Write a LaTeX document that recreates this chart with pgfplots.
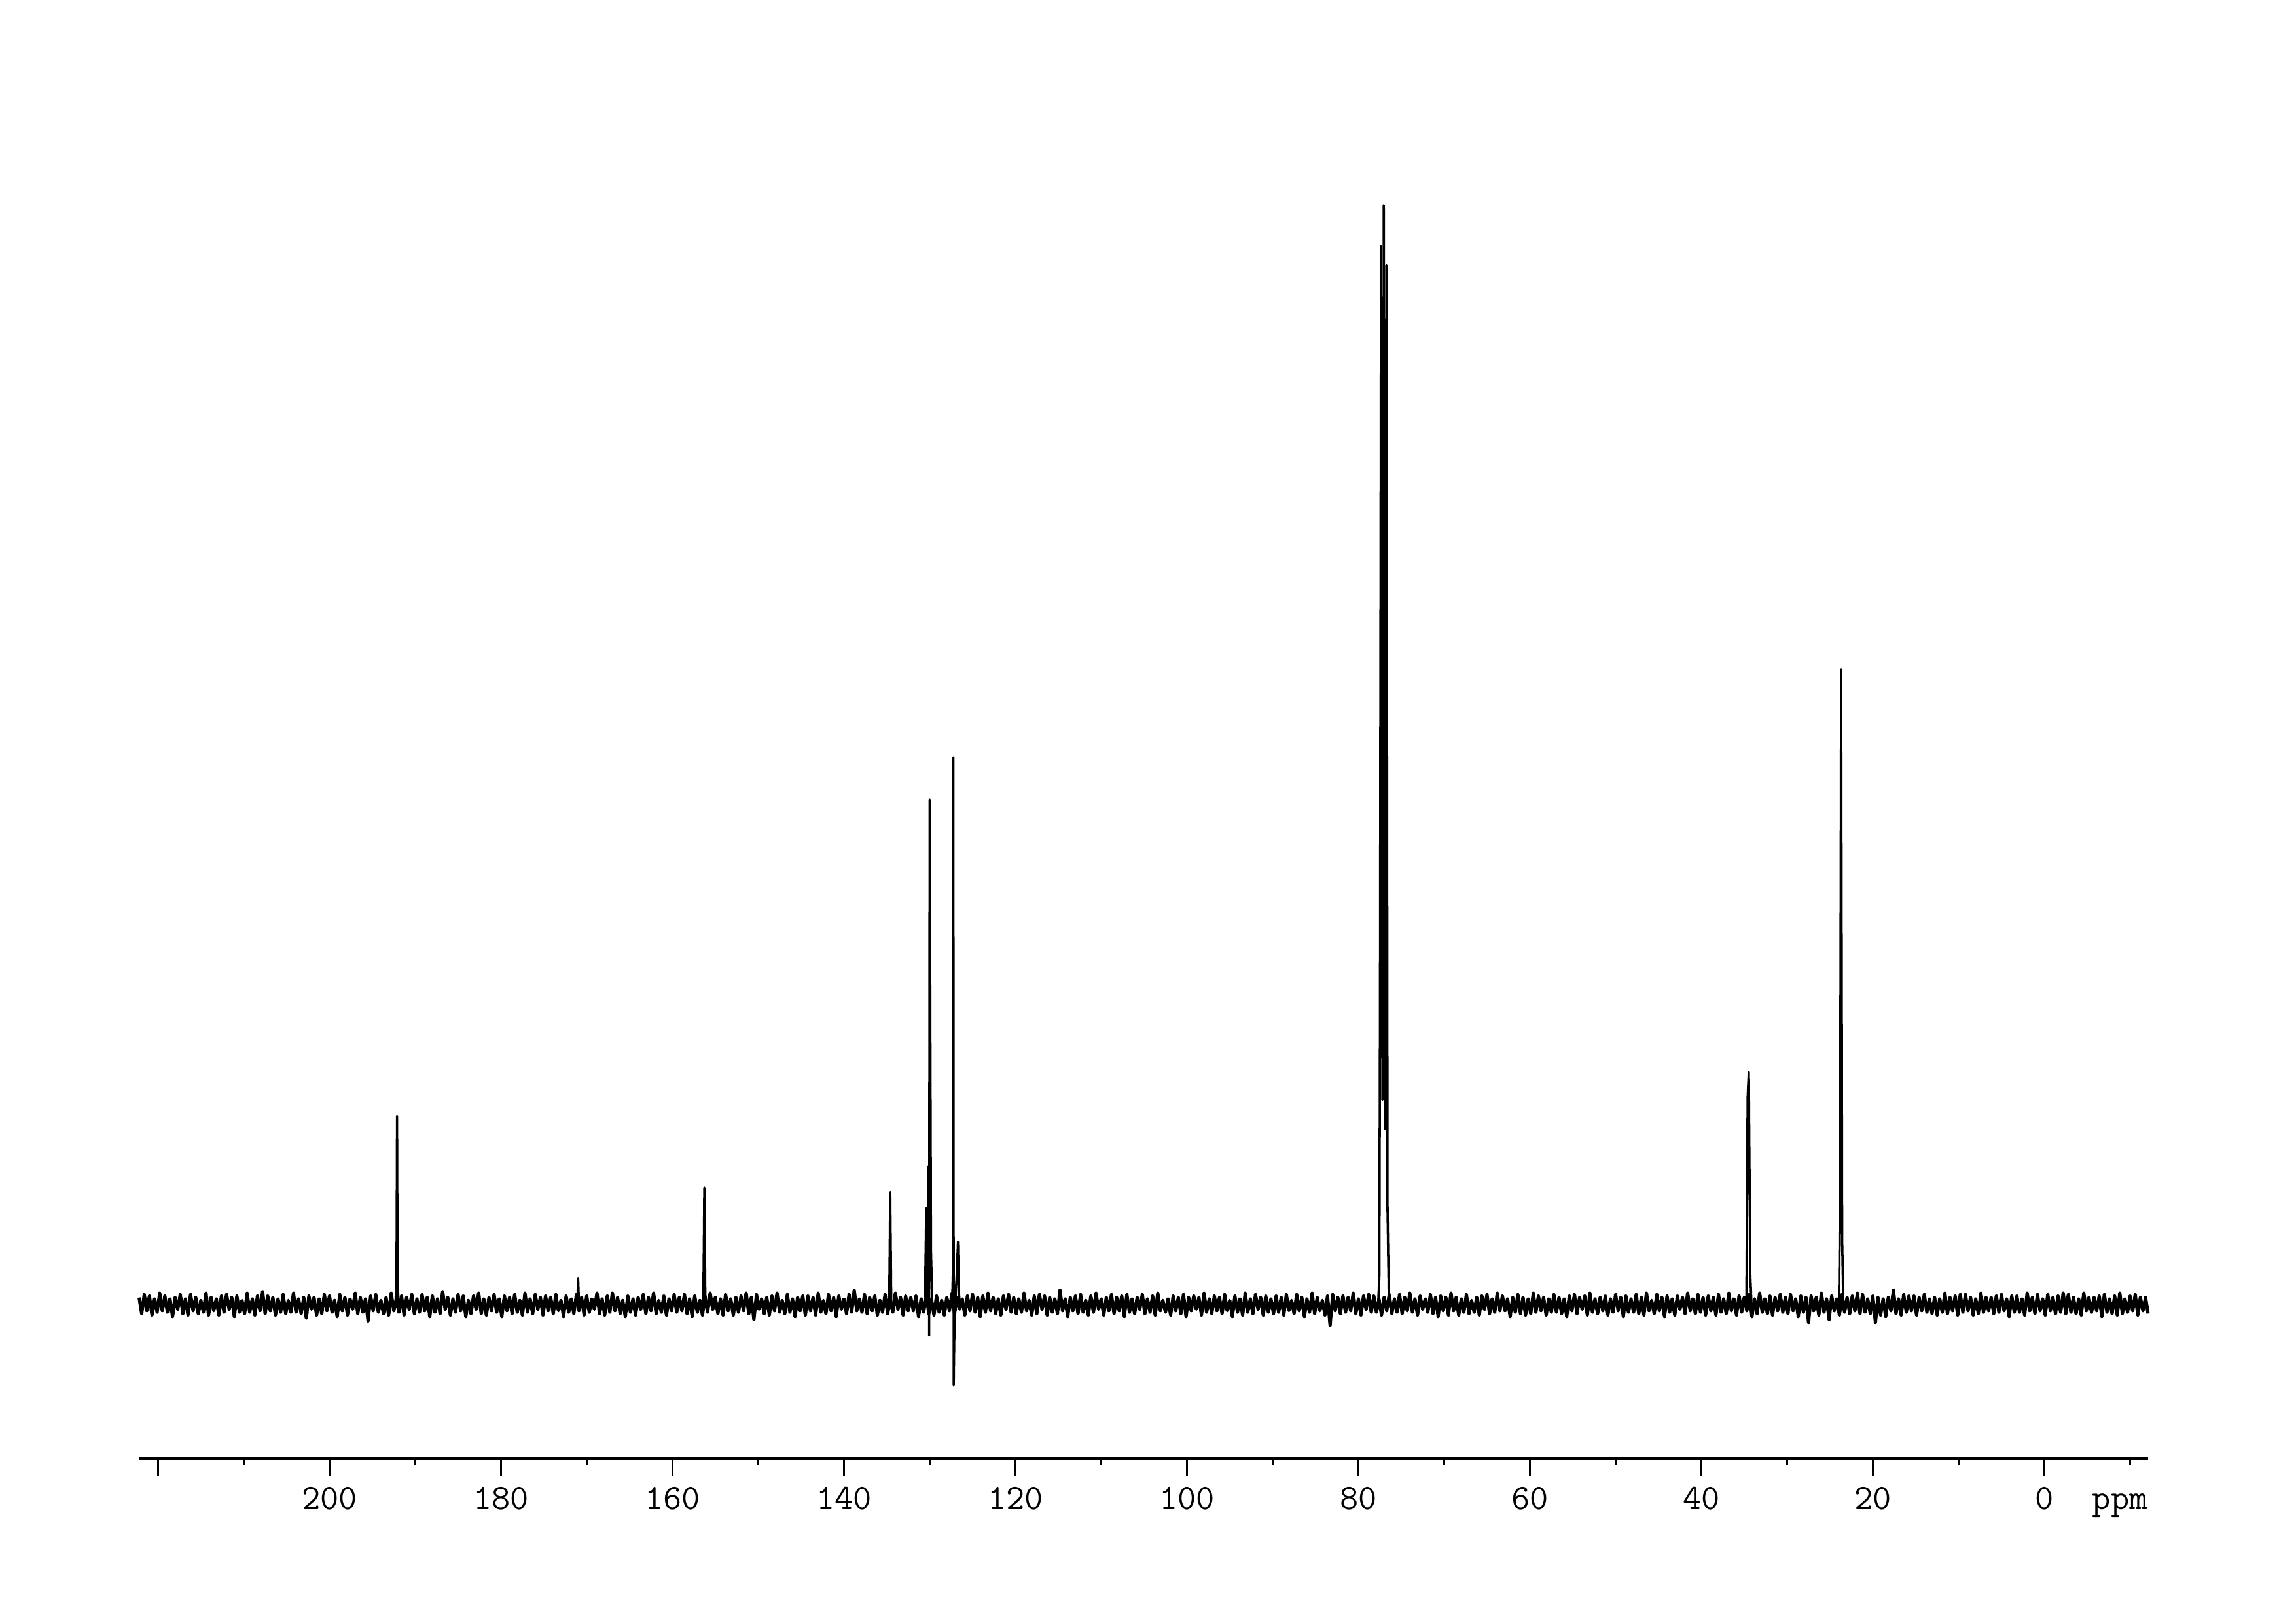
\documentclass[border=0pt]{standalone}
\usepackage{fontspec}
\usepackage{pgfplots}
\pgfplotsset{compat=1.18}
\pgfplotstableread{
x y
222.2 5
221.9 -6
221.6 7
221.3 -4
221.0 6
220.7 -7
220.4 4
220.1 -5
219.8 8
219.5 -4
219.2 6
218.9 -5
218.6 4
218.3 -8
218.0 5
217.7 -3
217.4 7
217.1 -6
216.8 4
216.5 -7
216.2 7
215.9 -4
215.6 5
215.3 -6
215.0 3
214.7 -5
214.4 8
214.1 -7
213.8 5
213.5 -4
213.2 4
212.9 -7
212.6 6
212.3 -5
212.0 7
211.7 -3
211.4 5
211.1 -8
210.8 6
210.5 -5
210.2 3
209.9 -6
209.6 8
209.3 -5
209.0 4
208.7 -7
208.4 6
208.1 -4
207.8 9
207.5 -6
207.2 6
206.9 -4
206.6 5
206.3 -7
206.0 4
205.7 -5
205.4 7
205.1 -6
204.8 3
204.5 -5
204.2 8
203.9 -5
203.6 4
203.3 -6
203.0 5
202.7 -9
202.4 6
202.1 -3
201.8 5
201.5 -7
201.2 4
200.9 -6
200.6 7
200.3 -4
200.0 6
199.7 -5
199.4 3
199.1 -8
198.8 7
198.5 -4
198.2 5
197.9 -7
197.6 4
197.3 -3
197.0 8
196.7 -6
196.4 5
196.1 -5
195.8 4
195.5 -11
195.2 6
194.9 -4
194.6 7
194.3 -5
194.0 3
193.7 -6
193.4 5
193.1 -7
192.8 8
192.5 -4
192.2 4
191.9 -5
191.6 6
191.3 -7
191.0 5
190.7 -3
190.4 7
190.1 -6
189.8 4
189.5 -5
189.2 7
188.9 -4
188.6 5
188.3 -8
188.0 6
187.7 -5
187.4 4
187.1 -6
186.8 9
186.5 -3
186.2 5
185.9 -7
185.6 4
185.3 -5
185.0 7
184.7 -4
184.4 6
184.1 -8
183.8 3
183.5 -6
183.2 6
182.9 -3
182.6 8
182.3 -6
182.0 4
181.7 -7
181.4 5
181.1 -4
180.8 7
180.5 -5
180.2 4
179.9 -8
179.6 6
179.3 -4
179.0 5
178.7 -6
178.4 7
178.1 -5
177.8 3
177.5 -7
177.2 8
176.9 -5
176.6 4
176.3 -6
176.0 7
175.7 -3
175.4 5
175.1 -7
174.8 6
174.5 -4
174.2 5
173.9 -6
173.6 7
173.3 -4
173.0 3
172.7 -8
172.4 6
172.1 -5
171.8 4
171.5 -6
171.2 7
170.9 -4
170.6 5
170.3 -7
170.0 6
169.7 -5
169.4 4
169.1 -3
168.8 8
168.5 -6
168.2 4
167.9 -7
167.6 6
167.3 -5
167.0 8
166.7 -4
166.4 5
166.1 -6
165.8 3
165.5 -8
165.2 6
164.9 -5
164.6 4
164.3 -7
164.0 5
163.7 -3
163.4 7
163.1 -6
162.8 5
162.5 -4
162.2 8
161.9 -6
161.6 3
161.3 -5
161.0 6
160.7 -7
160.4 4
160.1 -4
159.8 7
159.5 -5
159.2 5
158.9 -4
158.6 7
158.3 -6
158.0 4
157.7 -8
157.4 6
157.1 -5
156.8 3
156.5 -7
156.2 6
155.9 -5
155.6 8
155.3 -3
155.0 5
154.7 -6
154.4 4
154.1 -7
153.8 7
153.5 -4
153.2 4
152.9 -7
152.6 5
152.3 -5
152.0 6
151.7 -4
151.4 8
151.1 -6
150.8 5
150.5 -10
150.2 7
149.9 -3
149.6 4
149.3 -6
149.0 5
148.7 -7
148.4 6
148.1 -4
147.8 8
147.5 -5
147.2 3
146.9 -6
146.6 7
146.3 -5
146.0 4
145.7 -8
145.4 5
145.1 -4
144.8 6
144.5 -7
144.2 6
143.9 -4
143.6 5
143.3 -7
143.0 8
142.7 -5
142.4 3
142.1 -6
141.8 7
141.5 -4
141.2 5
140.9 -8
140.6 6
140.3 -3
140.0 4
139.7 -6
139.4 7
139.1 -5
138.8 10
138.5 -4
138.2 4
137.9 -5
137.6 7
137.3 -6
137.0 5
136.7 -4
136.4 6
136.1 -7
135.8 3
135.5 -5
135.2 7
134.9 -6
134.6 4
134.3 -5
134.0 8
133.7 -3
133.4 5
133.1 -7
132.8 6
132.5 -4
132.2 5
131.9 -4
131.6 6
131.3 -8
131.0 4
130.7 -5
130.4 7
130.1 -6
129.8 4
129.5 -7
129.2 6
128.9 -5
128.6 3
128.3 -7
128.0 5
127.7 -4
127.4 8
127.1 -6
126.8 5
126.5 -3
126.2 4
125.9 -7
125.6 6
125.3 -4
125.0 7
124.7 -5
124.4 5
124.1 -8
123.8 6
123.5 -5
123.2 8
122.9 -4
122.6 5
122.3 -6
122.0 4
121.7 -7
121.4 6
121.1 -3
120.8 7
120.5 -5
120.2 5
119.9 -6
119.6 4
119.3 -5
119.0 8
118.7 -4
118.4 3
118.1 -7
117.8 6
117.5 -6
117.2 7
116.9 -3
116.6 6
116.3 -7
116.0 5
115.7 -5
115.4 4
115.1 -6
114.8 10
114.5 -4
114.2 4
113.9 -8
113.6 5
113.3 -4
113.0 6
112.7 -6
112.4 7
112.1 -5
111.8 3
111.5 -7
111.2 6
110.9 -5
110.6 8
110.3 -3
110.0 4
109.7 -7
109.4 5
109.1 -4
108.8 7
108.5 -6
108.2 5
107.9 -4
107.6 6
107.3 -8
107.0 7
106.7 -5
106.4 4
106.1 -6
105.8 5
105.5 -3
105.2 7
104.9 -6
104.6 4
104.3 -5
104.0 6
103.7 -7
103.4 8
103.1 -4
102.8 3
102.5 -5
102.2 4
101.9 -7
101.6 6
101.3 -4
101.0 5
100.7 -6
100.4 7
100.1 -8
99.8 5
99.5 -4
99.2 6
98.9 -3
98.6 5
98.3 -7
98.0 8
97.7 -5
97.4 4
97.1 -6
96.8 6
96.5 -4
96.2 5
95.9 -6
95.6 7
95.3 -4
95.0 3
94.7 -8
94.4 6
94.1 -5
93.8 4
93.5 -7
93.2 8
92.9 -5
92.6 4
92.3 -6
92.0 7
91.7 -3
91.4 5
91.1 -7
90.8 6
90.5 -5
90.2 4
89.9 -6
89.6 6
89.3 -5
89.0 5
88.7 -7
88.4 7
88.1 -4
87.8 3
87.5 -6
87.2 7
86.9 -4
86.6 5
86.3 -8
86.0 4
85.7 -5
85.4 8
85.1 -6
84.8 5
84.5 -4
84.2 3
83.9 -7
83.6 6
83.3 -14
83.0 7
82.7 -4
82.4 5
82.1 -6
81.8 6
81.5 -5
81.2 5
80.9 -4
80.6 8
80.3 -6
80.0 4
79.7 -7
79.4 6
79.1 -3
78.8 7
78.5 -5
78.2 6
77.9 -5
77.6 4
77.3 -7
77.0 5
76.7 -4
76.4 7
76.1 -6
75.8 4
75.5 -5
75.2 7
74.9 -6
74.6 5
74.3 -4
74.0 8
73.7 -5
73.4 4
73.1 -7
72.8 6
72.5 -3
72.2 4
71.9 -5
71.6 7
71.3 -6
71.0 5
70.7 -8
70.4 6
70.1 -4
69.8 5
69.5 -7
69.2 8
68.9 -4
68.6 5
68.3 -7
68.0 4
67.7 -5
67.4 7
67.1 -6
66.8 3
66.5 -5
66.2 5
65.9 -7
65.6 6
65.3 -3
65.0 7
64.7 -6
64.4 4
64.1 -5
63.8 8
63.5 -4
63.2 6
62.9 -4
62.6 4
62.3 -8
62.0 5
61.7 -5
61.4 7
61.1 -6
60.8 5
60.5 -7
60.2 4
59.9 -6
59.6 8
59.3 -5
59.0 6
58.7 -4
58.4 5
58.1 -7
57.8 4
57.5 -5
57.2 7
56.9 -5
56.6 5
56.3 -6
56.0 4
55.7 -8
55.4 6
55.1 -4
54.8 7
54.5 -6
54.2 5
53.9 -3
53.6 6
53.3 -7
53.0 8
52.7 -5
52.4 4
52.1 -6
51.8 5
51.5 -4
51.2 6
50.9 -7
50.6 4
50.3 -5
50.0 7
49.7 -4
49.4 5
49.1 -8
48.8 6
48.5 -5
48.2 4
47.9 -5
47.6 7
47.3 -6
47.0 5
46.7 -7
46.4 8
46.1 -4
45.8 3
45.5 -6
45.2 7
44.9 -4
44.6 5
44.3 -8
44.0 6
43.7 -5
43.4 4
43.1 -7
42.8 6
42.5 -3
42.2 5
41.9 -6
41.6 8
41.3 -4
41.0 4
40.7 -6
40.4 7
40.1 -5
39.8 5
39.5 -7
39.2 6
38.9 -4
38.6 5
38.3 -7
38.0 7
37.7 -5
37.4 4
37.1 -6
36.8 8
36.5 -4
36.2 4
35.9 -7
35.6 6
35.3 -5
35.0 5
34.7 -4
34.4 7
34.1 -8
33.8 4
33.5 -6
33.2 8
32.9 -5
32.6 4
32.3 -6
32.0 6
31.7 -7
31.4 5
31.1 -4
30.8 7
30.5 -5
30.2 5
29.9 -6
29.6 7
29.3 -4
29.0 4
28.7 -8
28.4 6
28.1 -5
27.8 5
27.5 -12
27.2 6
26.9 -4
26.6 5
26.3 -7
26.0 8
25.7 -5
25.4 4
25.1 -10
24.8 6
24.5 -4
24.2 4
23.9 -7
23.6 7
23.3 -5
23.0 5
22.7 -6
22.4 6
22.1 -4
21.8 8
21.5 -6
21.2 7
20.9 -5
20.6 4
20.3 -6
20.0 6
19.7 -12
19.4 5
19.1 -7
18.8 4
18.5 -8
18.2 5
17.9 -4
17.6 10
17.3 -6
17.0 4
16.7 -7
16.4 7
16.1 -5
15.8 6
15.5 -4
15.2 6
14.9 -7
14.6 5
14.3 -4
14.0 7
13.7 -5
13.4 4
13.1 -6
12.8 5
12.5 -7
12.2 4
11.9 -5
11.6 8
11.3 -6
11.0 5
10.7 -4
10.4 6
10.1 -7
9.8 7
9.5 -5
9.2 7
8.9 -4
8.6 5
8.3 -7
8.0 4
7.7 -6
7.4 8
7.1 -5
6.8 5
6.5 -4
6.2 5
5.9 -6
5.6 6
5.3 -5
5.0 7
4.7 -4
4.4 4
4.1 -8
3.8 6
3.5 -5
3.2 6
2.9 -5
2.6 4
2.3 -7
2.0 8
1.7 -4
1.4 5
1.1 -6
0.8 7
0.5 -4
0.2 4
-0.1 -7
-0.4 7
-0.7 -4
-1.0 5
-1.3 -6
-1.6 6
-1.9 -5
-2.2 8
-2.5 -6
-2.8 7
-3.1 -5
-3.4 5
-3.7 -6
-4.0 4
-4.3 -7
-4.6 8
-4.9 -4
-5.2 5
-5.5 -5
-5.8 5
-6.1 -4
-6.4 6
-6.7 -8
-7.0 7
-7.3 -5
-7.6 4
-7.9 -6
-8.2 6
-8.5 -7
-8.8 8
-9.1 -6
-9.4 4
-9.7 -5
-10.0 6
-10.3 -4
-10.6 7
-10.9 -7
-11.2 5
-11.5 -4
-11.8 5
-12.1 -6
}\noise
\begin{document}
\begin{tikzpicture}
\useasboundingbox (0,0) rectangle (297mm,209.9mm);
\begin{axis}[
  at={(18mm,21.2mm)}, anchor=south west,
  scale only axis, width=259.9mm, height=171.6mm,
  axis y line=none,
  axis x line=bottom,
  x axis line style={-, line width=1pt, black},
  x dir=reverse,
  xmin=-12.13, xmax=222.2,
  ymin=-105, ymax=801,
  xtick={0,20,...,220},
  xticklabels={0,20,40,60,80,100,120,140,160,180,200,{}},
  minor xtick={-10,10,30,...,210},
  tick align=outside,
  major tick length=2.2mm,
  minor tick length=0.85mm,
  tick style={line width=0.8pt, black},
  /pgf/number format/assume math mode=true,
  xticklabel style={font=\ttfamily\fontsize{13.2}{15}\selectfont, anchor=base, yshift=-4.36mm, inner sep=0pt},
  clip=false,
]
\addplot[black, line width=1.2pt, line join=round] table[x=x, y=y] {\noise};
\addplot[black, line width=0.85pt, line join=round] coordinates {(192.30,0)(192.18,19)(192.12,129)(192.06,13)(191.90,0)};
\addplot[black, line width=0.85pt, line join=round] coordinates {(171.10,0)(171.00,18)(170.90,0)};
\addplot[black, line width=0.85pt, line join=round] coordinates {(156.40,0)(156.28,80)(156.16,0)};
\addplot[black, line width=0.85pt, line join=round] coordinates {(134.72,0)(134.60,77)(134.48,0)};
\addplot[black, line width=0.85pt, line join=round] coordinates {(130.55,0)(130.40,66)(130.30,4)(130.13,95)(130.06,-21)(130.00,345)(129.85,37)(129.70,0)};
\addplot[black, line width=0.85pt, line join=round] coordinates {(127.55,0)(127.35,9)(127.28,25)(127.24,374)(127.20,-55)(127.10,-8)(126.85,20)(126.70,43)(126.60,8)(126.45,0)};
\addplot[black, line width=0.85pt, line join=round] coordinates {(77.70,0)(77.55,20)(77.48,218)(77.36,723)(77.20,140)(77.04,751)(76.88,120)(76.72,710)(76.60,64)(76.45,5)(76.30,0)};
\addplot[black, line width=0.85pt, line join=round] coordinates {(34.75,0)(34.60,142)(34.47,159)(34.30,21)(34.15,0)};
\addplot[black, line width=0.85pt, line join=round] coordinates {(23.95,0)(23.82,82)(23.70,434)(23.58,45)(23.45,0)};
\node[font=\ttfamily\fontsize{13.2}{15}\selectfont, anchor=base east, inner sep=0pt] at ([yshift=-6.56mm]rel axis cs:1,0) {ppm};
\end{axis}
\end{tikzpicture}
\end{document}
